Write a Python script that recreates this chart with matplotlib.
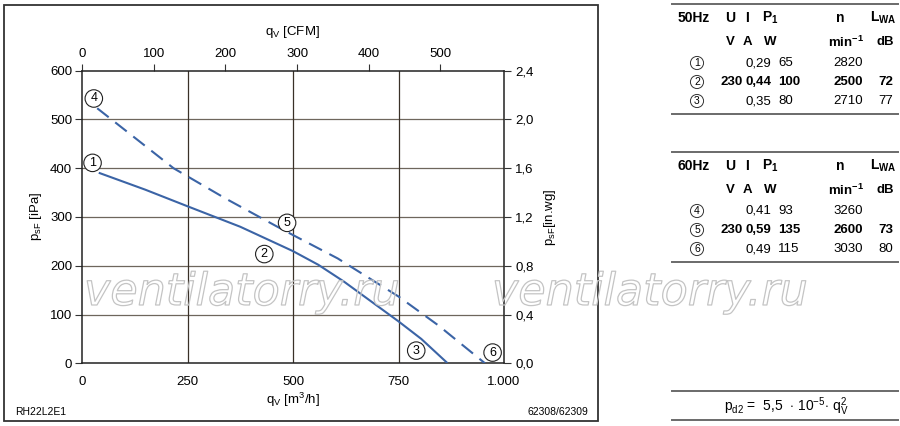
import numpy as np
import matplotlib
matplotlib.use("Agg")
import matplotlib.pyplot as plt
from matplotlib.patches import Rectangle
from matplotlib.lines import Line2D
from matplotlib.ticker import FuncFormatter
import matplotlib.patheffects as pe

plt.rcParams['font.family'] = ['Liberation Sans', 'DejaVu Sans']
plt.rcParams['mathtext.fontset'] = 'custom'
plt.rcParams['mathtext.rm'] = 'Liberation Sans'
plt.rcParams['mathtext.it'] = 'Liberation Sans'
plt.rcParams['mathtext.bf'] = 'Liberation Sans:bold'

# curve 50 Hz (solid), m3/h vs Pa
q_50 = [42, 150, 250, 375, 500, 560, 620, 685, 750, 804, 864]
p_50 = [390, 356, 322, 280, 230, 202, 168, 127, 86, 50, 2]
# curve 60 Hz (dashed)
q_60 = [36, 120, 217, 340, 463, 500, 606, 750, 844, 955]
p_60 = [523, 466, 400, 338, 280, 263, 215, 137, 78, 0]

# operating point markers
mark_labels = ['1', '2', '3', '4', '5', '6']
mark_q = [25, 432, 792, 28, 486, 973]
mark_p = [411, 224, 26, 543, 288, 22]

x_ticks = [0, 250, 500, 750, 1000]
x_ticklabels = ['0', '250', '500', '750', '1.000']
y_ticks = [0, 100, 200, 300, 400, 500, 600]
cfm_ticks = [0, 100, 200, 300, 400, 500]
inwg_ticks = [0, 0.4, 0.8, 1.2, 1.6, 2.0, 2.4]

# tables
t50_header = ['50Hz', 'U', 'I', 'P$_{\\mathbf{1}}$', 'n', 'L$_{\\mathbf{WA}}$']
t60_header = ['60Hz', 'U', 'I', 'P$_{\\mathbf{1}}$', 'n', 'L$_{\\mathbf{WA}}$']
units = ['V', 'A', 'W', 'min$^{\\mathbf{-1}}$', 'dB']
t50_rows = [['1', '', '0,29', '65', '2820', ''],
            ['2', '230', '0,44', '100', '2500', '72'],
            ['3', '', '0,35', '80', '2710', '77']]
t60_rows = [['4', '', '0,41', '93', '3260', ''],
            ['5', '230', '0,59', '135', '2600', '73'],
            ['6', '', '0,49', '115', '3030', '80']]

W, H = 900, 426
fig = plt.figure(figsize=(9, 4.26), dpi=100)


def fx(px):
    return px / W


def fy(py):
    return 1 - py / H


ax = fig.add_axes([fx(82), fy(363.3), 422 / W, 292.6 / H])
ax.set_xlim(0, 1000)
ax.set_ylim(0, 600)

blue = '#3b64a6'
ax.plot(q_50, p_50, color=blue, lw=1.5, zorder=3)
ax.plot(q_60, p_60, color=blue, lw=1.5, dashes=(7, 4), zorder=3)

for lab, q, p in zip(mark_labels, mark_q, mark_p):
    ax.text(q, p, lab, fontsize=9, ha='center', va='center', zorder=5,
            bbox=dict(boxstyle='circle,pad=0.22', fc='white', ec='#222', lw=0.8))

for y in y_ticks[1:-1]:
    ax.axhline(y, color='#6e665c', lw=0.9, zorder=1)
for x in x_ticks[1:-1]:
    ax.axvline(x, color='#3a3128', lw=0.9, zorder=1)

for s in ax.spines.values():
    s.set_color('#222')
    s.set_linewidth(1.1)

ax.set_xticks(x_ticks)
ax.set_xticklabels(x_ticklabels)
ax.set_yticks(y_ticks)
ax.tick_params(axis='y', labelsize=9.5, color='#333', length=5, direction='out', pad=2)
ax.tick_params(axis='x', labelsize=9.5, length=0, pad=9)

top = ax.secondary_xaxis('top', functions=(lambda x: x * 0.5886, lambda c: c / 0.5886))
top.set_xticks(cfm_ticks)
top.tick_params(labelsize=9.5, length=5, direction='out', color='#333', pad=3)
top.spines['top'].set_visible(False)

right = ax.secondary_yaxis('right', functions=(lambda p: p * 0.004, lambda w: w / 0.004))
right.set_yticks(inwg_ticks)
right.yaxis.set_major_formatter(FuncFormatter(lambda v, pos: f'{v:.1f}'.replace('.', ',')))
right.tick_params(labelsize=9.5, length=5, direction='out', color='#333', pad=3)
right.spines['right'].set_visible(False)

# axis labels
fig.text(fx(292), fy(32), 'q$_V$ [CFM]', fontsize=9.5, ha='center', va='center')
fig.text(fx(293), fy(400), 'q$_V$ [m$^3$/h]', fontsize=9.5, ha='center', va='center')
fig.text(fx(36), fy(216), 'p$_{sF}$ [iPa]', fontsize=9.5, ha='center', va='center', rotation=90)
fig.text(fx(550), fy(217), 'p$_{sF}$[in.wg]', fontsize=9.5, ha='center', va='center', rotation=90)
fig.text(fx(15), fy(412), 'RH22L2E1', fontsize=7.5, ha='left', va='center')
fig.text(fx(588), fy(412), '62308/62309', fontsize=7.5, ha='right', va='center')

# outer frame
fig.add_artist(Rectangle((fx(3.5), fy(421)), (598 - 3.5) / W, (421 - 4.7) / H,
                         transform=fig.transFigure, fill=False, ec='#333', lw=1.3))

# watermark
for wx in [84, 492]:
    fig.text(fx(wx), fy(305), 'ventilatorry.ru', fontsize=32, style='oblique',
             family='DejaVu Sans', ha='left', va='baseline', color='none', zorder=10,
             path_effects=[pe.Stroke(linewidth=0.9, foreground='#c4c4c4')])

# tables
head_x = [694, 730, 747, 770, 840, 883]
unit_x = [730, 747, 770, 846, 885]
circ_x = 697
val_x = [743, 745, 778, 833, 878]
val_ha = ['right', 'left', 'left', 'left', 'left']


def hline(y):
    fig.add_artist(Line2D([fx(672), fx(898)], [fy(y), fy(y)], transform=fig.transFigure,
                          color='#6a6a6a', lw=1.4))


def draw_table(header, rows, y0):
    hline(y0)
    for x, t in zip(head_x, header):
        fig.text(fx(x), fy(y0 + 14), t, fontsize=10, fontweight='bold', ha='center', va='center')
    for x, t in zip(unit_x, units):
        fig.text(fx(x), fy(y0 + 38), t, fontsize=9.5, fontweight='bold', ha='center', va='center')
    for i, row in enumerate(rows):
        y = y0 + 59 + i * 19
        fig.text(fx(circ_x), fy(y), row[0], fontsize=7.5, ha='center', va='center',
                 bbox=dict(boxstyle='circle,pad=0.15', fc='white', ec='#333', lw=0.7))
        bold = 'bold' if i == 1 else 'normal'
        for x, ha, t in zip(val_x, val_ha, row[1:]):
            fig.text(fx(x), fy(y), t, fontsize=9.5, fontweight=bold, ha=ha, va='center')
    hline(y0 + 110)


draw_table(t50_header, t50_rows, 4)
draw_table(t60_header, t60_rows, 152)

hline(391)
hline(420)
fig.text(fx(786), fy(407), 'p$_{d2}$ =  5,5  $\\cdot$ 10$^{-5}$$\\cdot$ q$_V^2$', fontsize=10,
         ha='center', va='center')

fig.savefig('out.png', dpi=100)
